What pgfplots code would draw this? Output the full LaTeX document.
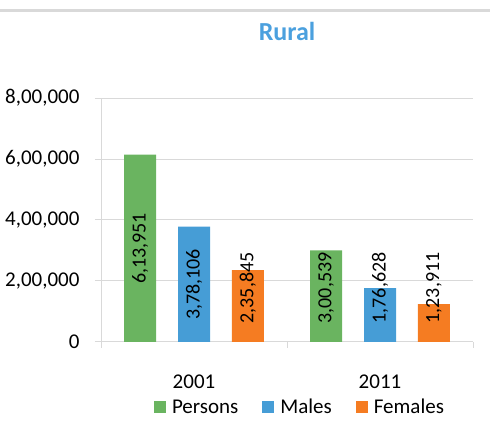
\documentclass[border=0pt]{standalone}
\usepackage{fontspec}
\setmainfont{Carlito}
\usepackage{pgfplots}
\pgfplotsset{compat=1.18}
\definecolor{cPer}{RGB}{106,180,96}
\definecolor{cMal}{RGB}{70,157,214}
\definecolor{cFem}{RGB}{245,124,34}
\definecolor{cTitle}{RGB}{75,160,222}
\definecolor{cGrid}{RGB}{217,217,217}
\begin{document}
\begin{tikzpicture}[x=1pt,y=1pt]
\path[use as bounding box] (0,0) rectangle (490,436);
\draw[cGrid, line width=3pt] (0,425) -- (490,425);
\begin{axis}[
  at={(101pt,94pt)}, anchor=south west, scale only axis,
  width=372pt, height=244pt,
  xmin=-0.5, xmax=1.5, ymin=0, ymax=800000,
  axis x line*=bottom, axis y line*=left,
  axis line style={draw=cGrid, line width=1pt},
  tick align=outside, major tick length=6pt,
  tick style={draw=cGrid, line width=1pt},
  ytick={0,200000,400000,600000,800000},
  yticklabels={0,{2,00,000},{4,00,000},{6,00,000},{8,00,000}},
  scaled y ticks=false,
  ymajorgrids, grid style={draw=cGrid, line width=1pt},
  xtick={-0.5,0.5,1.5}, xticklabels={},
  extra x ticks={0,1}, extra x tick labels={2001,2011},
  extra x tick style={major tick length=0pt, grid=none},
  tick label style={font=\fontsize{21}{25}\selectfont, text=black},
  yticklabel style={xshift=-12pt},
  xticklabel style={yshift=-29pt},
  title={Rural},
  title style={at={(axis description cs:0.5,1)}, anchor=center, yshift=61pt,
    font=\fontsize{26}{30}\selectfont\bfseries, text=cTitle},
  legend style={at={(axis description cs:0.535,-0.268)}, anchor=center,
    draw=none, fill=none, legend columns=-1,
    font=\fontsize{21}{25}\selectfont,
    /tikz/every odd column/.append style={column sep=4pt},
    /tikz/every even column/.append style={column sep=22pt}},
  legend image code/.code={\fill[#1] (0pt,-6pt) rectangle (12pt,6pt);},
]
\addplot[ybar, bar width=32pt, bar shift=0pt, fill=cPer, draw=none]
  coordinates {(-0.29,613951) (0.71,300539)};
\addlegendentry{Persons}
\addplot[ybar, bar width=32pt, bar shift=0pt, fill=cMal, draw=none]
  coordinates {(0,378106) (1,176628)};
\addlegendentry{Males}
\addplot[ybar, bar width=32pt, bar shift=0pt, fill=cFem, draw=none]
  coordinates {(0.29,235845) (1.29,123911)};
\addlegendentry{Females}
\addplot[only marks, mark=*, mark size=0pt, draw=none, fill=none, forget plot,
  point meta=explicit symbolic, nodes near coords,
  nodes near coords align={anchor=center},
  nodes near coords style={rotate=90, anchor=center, text=black,
    font=\fontsize{20}{24}\selectfont}]
  coordinates {(-0.29,306975) [6,13,951] (0,189053) [3,78,106] (0.29,177000) [2,35,845]
    (0.71,177000) [3,00,539] (1,177000) [1,76,628] (1.29,177000) [1,23,911]};
\end{axis}
\end{tikzpicture}
\end{document}
